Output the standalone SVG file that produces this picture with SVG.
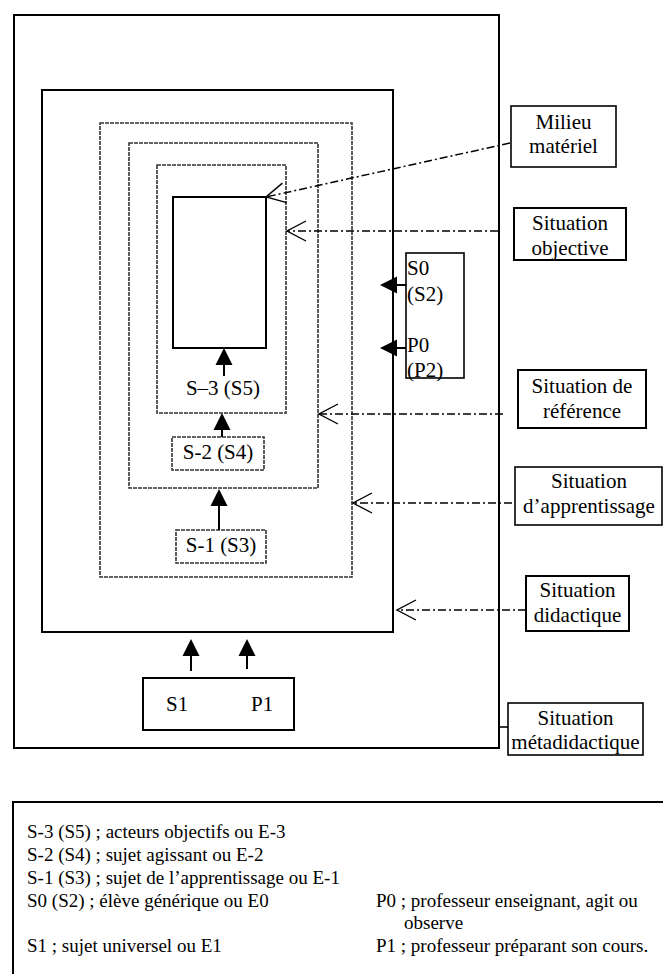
<svg xmlns="http://www.w3.org/2000/svg" width="663" height="974" viewBox="0 0 663 974">
<style>
  text { font-family: "Liberation Serif", "Times New Roman", serif; fill: #000; }
  .lbl { font-size: 21px; text-anchor: middle; }
  .in { font-size: 21px; }
  .leg { font-size: 19px; }
  .solid { fill: none; stroke: #000; stroke-width: 2; }
  .thin { fill: none; stroke: #000; stroke-width: 1.6; }
  .dot { fill: none; stroke: #333; stroke-width: 1.6; stroke-dasharray: 4 1; }
  .dd { fill: none; stroke: #000; stroke-width: 1.5; stroke-dasharray: 8 3 2 3; }
  .stem { fill: none; stroke: #000; stroke-width: 2; }
</style>
<defs>
  <marker id="open" viewBox="-22 -12 26 24" refX="0" refY="0" markerWidth="26" markerHeight="24" markerUnits="userSpaceOnUse" orient="auto">
    <path d="M -19 -10 L 0 0 L -19 10" fill="none" stroke="#000" stroke-width="1.4"/>
  </marker>
  <marker id="solid" viewBox="-20 -10 24 20" refX="-3" refY="0" markerWidth="24" markerHeight="20" markerUnits="userSpaceOnUse" orient="auto">
    <path d="M 0 0 L -17 -8.5 L -17 8.5 Z" fill="#000"/>
  </marker>
</defs>

<g id="situation-metadidactique-frame"><rect class="solid" x="14" y="15" width="485" height="733"/></g>
<g id="situation-didactique-frame"><rect class="solid" x="42" y="90" width="351" height="542"/></g>
<g id="situation-apprentissage-frame"><rect class="dot" x="100" y="123" width="252" height="454"/></g>
<g id="situation-reference-frame"><rect class="dot" x="129" y="143" width="189" height="345"/></g>
<g id="situation-objective-frame"><rect class="dot" x="157" y="165" width="129" height="248"/></g>
<g id="milieu-materiel-frame"><rect class="solid" x="173" y="197" width="93" height="151"/></g>

<g id="s3"><text class="in" x="223" y="395" text-anchor="middle">S–3 (S5)</text></g>
<g id="s2"><rect class="dot" x="172" y="437" width="92" height="33"/><text class="in" x="218" y="459" text-anchor="middle">S-2 (S4)</text></g>
<g id="s1-box"><rect class="dot" x="176" y="530" width="90" height="33"/><text class="in" x="221" y="552" text-anchor="middle">S-1 (S3)</text></g>
<g id="s0-p0"><rect class="thin" x="406" y="253" width="58" height="125"/>
  <text class="in" x="407" y="275">S0</text><text class="in" x="407" y="301">(S2)</text>
  <text class="in" x="407" y="352">P0</text><text class="in" x="407" y="377">(P2)</text></g>
<g id="s1-p1"><rect class="solid" x="143" y="678" width="151" height="52"/>
  <text class="in" x="166" y="711">S1</text><text class="in" x="251" y="711">P1</text></g>

<g id="label-milieu"><rect class="thin" x="511" y="106" width="105" height="61"/>
  <text class="lbl" x="563.5" y="129">Milieu</text><text class="lbl" x="563.5" y="153">matériel</text></g>
<g id="label-objective"><rect class="solid" x="514" y="208" width="112" height="52"/>
  <text class="lbl" x="570" y="230">Situation</text><text class="lbl" x="570" y="255">objective</text></g>
<g id="label-reference"><rect class="solid" x="518" y="370" width="128" height="58"/>
  <text class="lbl" x="582" y="393">Situation de</text><text class="lbl" x="582" y="418">référence</text></g>
<g id="label-apprentissage"><rect class="thin" x="515" y="467" width="147" height="58"/>
  <text class="lbl" x="589" y="488">Situation</text><text class="lbl" x="589" y="513">d’apprentissage</text></g>
<g id="label-didactique"><rect class="solid" x="526" y="576" width="103" height="55"/>
  <text class="lbl" x="577.5" y="597">Situation</text><text class="lbl" x="577.5" y="622">didactique</text></g>
<g id="label-metadidactique"><rect class="thin" x="508" y="703" width="135" height="52"/>
  <text class="lbl" x="575.5" y="725">Situation</text><text class="lbl" x="575.5" y="749">métadidactique</text></g>

<g id="connectors">
  <line class="dd" x1="510" y1="143" x2="266" y2="197" marker-end="url(#open)"/>
  <line class="dd" x1="498" y1="231" x2="287" y2="231" marker-end="url(#open)"/>
  <line class="dd" x1="503" y1="414" x2="319" y2="414" marker-end="url(#open)"/>
  <line class="dd" x1="512" y1="503" x2="353" y2="503" marker-end="url(#open)"/>
  <line class="dd" x1="526" y1="610" x2="397" y2="610" marker-end="url(#open)"/>
  <line class="thin" x1="499" y1="727" x2="508" y2="727"/>
  <line class="stem" x1="224" y1="376" x2="224" y2="351" marker-end="url(#solid)"/>
  <line class="stem" x1="222" y1="437" x2="222" y2="416" marker-end="url(#solid)"/>
  <line class="stem" x1="219" y1="530" x2="219" y2="492" marker-end="url(#solid)"/>
  <line class="stem" x1="191" y1="671" x2="191" y2="642" marker-end="url(#solid)"/>
  <line class="stem" x1="247" y1="669" x2="247" y2="642" marker-end="url(#solid)"/>
  <line class="stem" x1="406" y1="285" x2="383" y2="285" marker-end="url(#solid)"/>
  <line class="stem" x1="406" y1="348" x2="383" y2="348" marker-end="url(#solid)"/>
</g>

<g id="legend">
  <path class="solid" d="M 663 802 H 13 V 974"/>
  <text class="leg" x="27" y="838">S-3 (S5) ; acteurs objectifs ou E-3</text>
  <text class="leg" x="27" y="861">S-2 (S4) ; sujet agissant ou E-2</text>
  <text class="leg" x="27" y="884">S-1 (S3) ; sujet de l’apprentissage ou E-1</text>
  <text class="leg" x="27" y="907">S0 (S2) ; élève générique ou E0</text>
  <text class="leg" x="376" y="907">P0 ; professeur enseignant, agit ou</text>
  <text class="leg" x="404" y="929">observe</text>
  <text class="leg" x="27" y="952">S1 ; sujet universel ou E1</text>
  <text class="leg" x="376" y="952">P1 ; professeur préparant son cours.</text>
</g>
</svg>
